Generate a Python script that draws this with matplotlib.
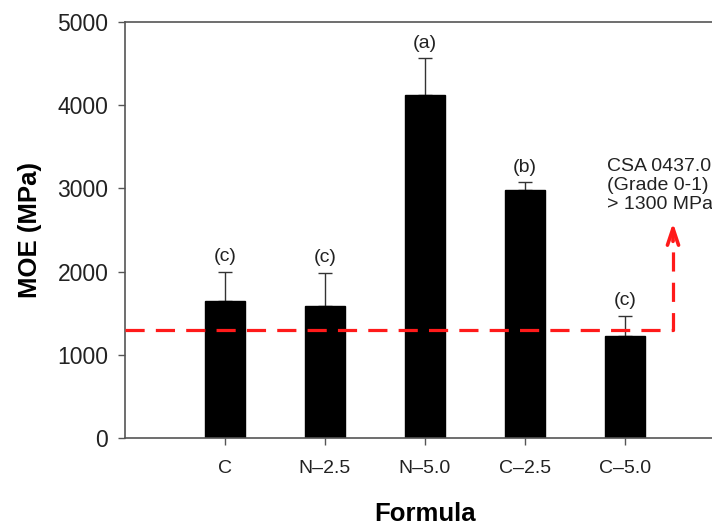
import numpy as np
import matplotlib
matplotlib.use("Agg")
import matplotlib.pyplot as plt

plt.rcParams['font.family'] = ['Liberation Sans', 'DejaVu Sans']

formulas = ["C", "N\u20132.5", "N\u20135.0", "C\u20132.5", "C\u20135.0"]
moe = [1650, 1590, 4120, 2980, 1220]
moe_err = [345, 395, 445, 95, 245]
groups = ["(c)", "(c)", "(a)", "(b)", "(c)"]
standard = 1300
standard_text = "CSA 0437.0\n(Grade 0-1)\n> 1300 MPa"

fig = plt.figure(figsize=(7.12, 5.25), dpi=100)
ax = fig.add_axes([125/712, 87/525, 600/712, 416/525])

x = np.arange(len(formulas))
ax.bar(x, moe, width=0.4, color="black", edgecolor="black", zorder=2)
ax.errorbar(x, moe, yerr=[np.zeros(len(moe)), moe_err], fmt="none",
            ecolor="#333333", elinewidth=1, capsize=5, capthick=1, zorder=1)
for xi, v, e, g in zip(x, moe, moe_err, groups):
    ax.text(xi, v + e + 80, g, ha="center", va="bottom", fontsize=14,
            color="#222222")

# standard line with arrow
ax.plot([-1, 4.48, 4.48], [standard, standard, 2380], color="#ff1a1a", lw=2.3,
        dashes=(6, 3.5), zorder=3)
ax.annotate("", xy=(4.48, 2620), xytext=(4.48, 2330),
            arrowprops=dict(arrowstyle="->,head_length=1.2,head_width=0.4",
                            color="#ff1a1a", lw=2.6))
ax.text(3.82, 2700, standard_text, fontsize=14, ha="left", va="bottom",
        linespacing=1.15, color="#222222")

ax.set_xlim(-1, 5)
ax.set_ylim(0, 5000)
ax.set_yticks([0, 1000, 2000, 3000, 4000, 5000])
ax.set_xticks(x)
ax.set_xticklabels(formulas)
ax.tick_params(axis="y", labelsize=16.5, direction="out", length=5, width=1,
               color="#555555", labelcolor="#222222", pad=7)
ax.tick_params(axis="x", labelsize=14, direction="out", length=5, width=1,
               color="#555555", labelcolor="#222222", pad=11)
for s in ax.spines.values():
    s.set_color("#555555")
    s.set_linewidth(1.2)
ax.set_ylabel("MOE (MPa)", fontsize=18.5, fontweight="bold", labelpad=11)
ax.set_xlabel("Formula", fontsize=18.5, fontweight="bold", labelpad=18)

fig.savefig("out.png", dpi=100)
